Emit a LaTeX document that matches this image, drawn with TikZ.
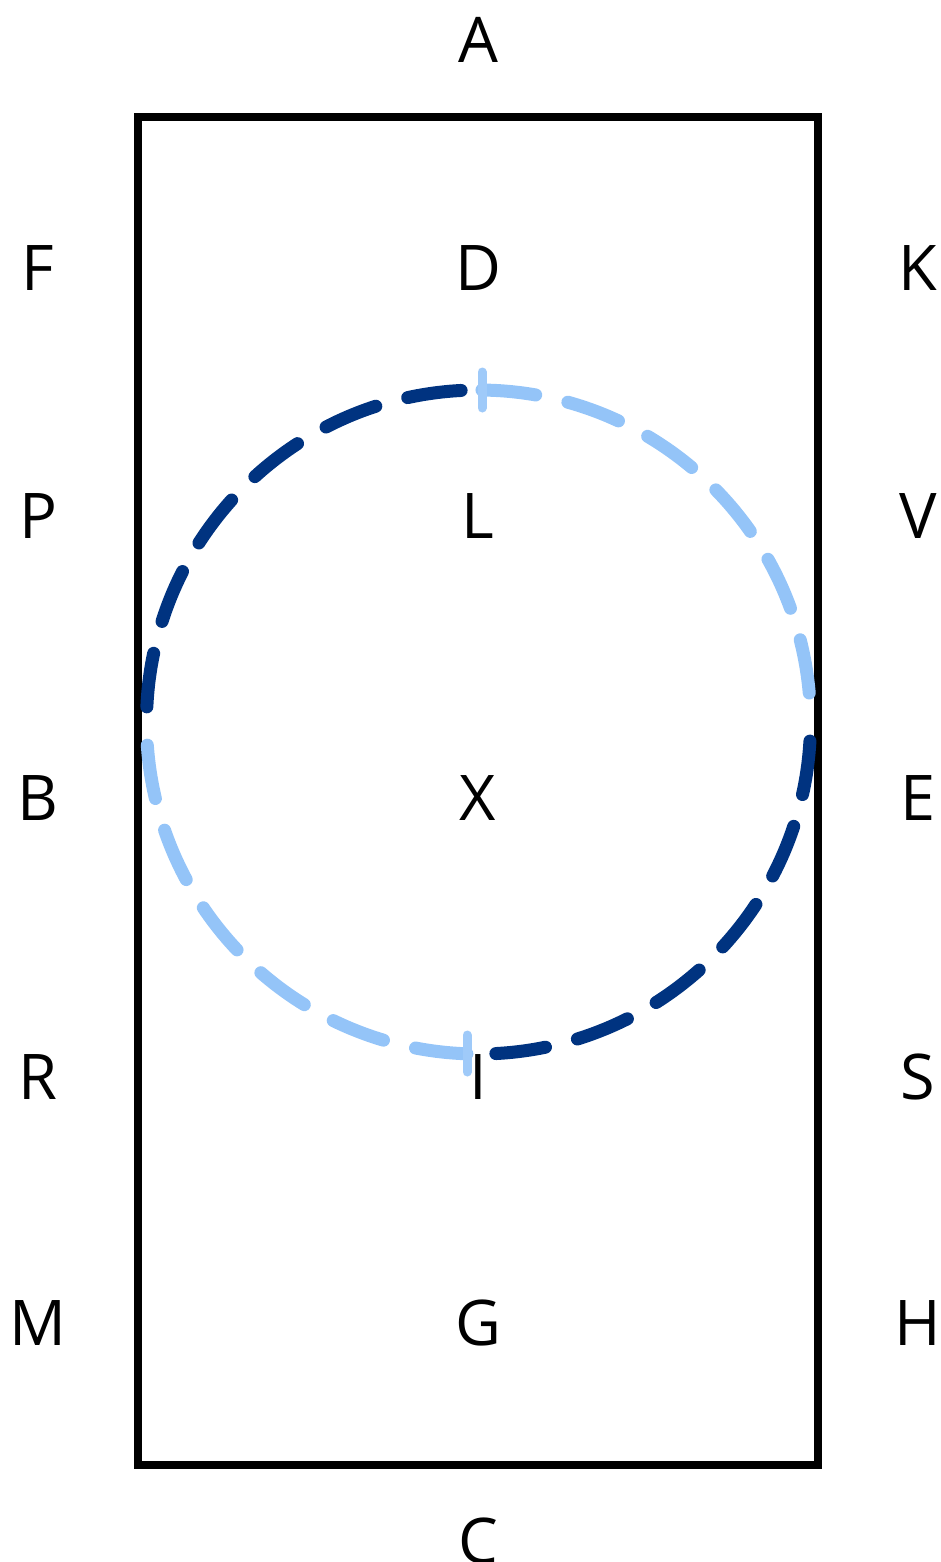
\documentclass[tikz,border=0pt]{standalone}
\usepackage{fontspec}
\setmainfont{Open Sans}
\definecolor{rein}{HTML}{003380}
\definecolor{reinlight}{HTML}{94C4F8}
\tikzset{
  arena/.style={draw=black, line width=8pt},
  letter/.style={inner sep=0pt, anchor=base, font=\fontsize{63}{63}\selectfont},
  track/.style={line width=13pt, line cap=round, dash pattern=on 54pt off 33pt},
  darktrack/.style={track, draw=rein},
  lighttrack/.style={track, draw=reinlight},
  tick/.style={draw=reinlight!90!white, line width=9pt, line cap=round},
}
\begin{document}
\begin{tikzpicture}[x=1pt,y=1pt]
  \useasboundingbox (0,0) rectangle (940,-1562);

  % arena fence
  \draw[arena] (138,-117.5) rectangle (818,-1465);

  % circle centre
  \coordinate (c) at (478.5,-722);

  % twenty-metre circle, quarters in alternating colours
  \draw[darktrack]  (c) ++(93:332)    arc[start angle=93,    end angle=178,  radius=332];
  \draw[lighttrack] (c) ++(89.4:332)  arc[start angle=89.4,  end angle=4,    radius=332];
  \draw[darktrack]  (c) ++(-3.3:332)  arc[start angle=-3.3,  end angle=-87,  radius=332];
  \draw[lighttrack] (c) ++(184:332)   arc[start angle=184,   end angle=268,  radius=332];

  % start and end marks of the light track
  \coordinate (t1) at (482,-372);  \coordinate (t2) at (482,-408);
  \coordinate (b1) at (467,-1035); \coordinate (b2) at (467,-1072);
  \draw[tick] (t1) -- (t2);
  \draw[tick] (b1) -- (b2);

  % arena letters
  \node[letter] (A) at (478,-63)   {A};
  \node[letter] (F) at (38,-290)   {F};
  \node[letter] (D) at (478,-290)  {D};
  \node[letter] (K) at (918,-290)  {K};
  \node[letter] (P) at (38,-538)   {P};
  \node[letter] (L) at (478,-538)  {L};
  \node[letter] (V) at (918,-538)  {V};
  \node[letter] (B) at (38,-820)   {B};
  \node[letter] (X) at (478,-820)  {X};
  \node[letter] (E) at (918,-820)  {E};
  \node[letter] (R) at (38,-1099)  {R};
  \node[letter] (I) at (478,-1099) {I};
  \node[letter] (S) at (918,-1099) {S};
  \node[letter] (M) at (38,-1345)  {M};
  \node[letter] (G) at (478,-1345) {G};
  \node[letter] (H) at (918,-1345) {H};
  \node[letter] (C) at (478,-1563) {C};
\end{tikzpicture}
\end{document}
